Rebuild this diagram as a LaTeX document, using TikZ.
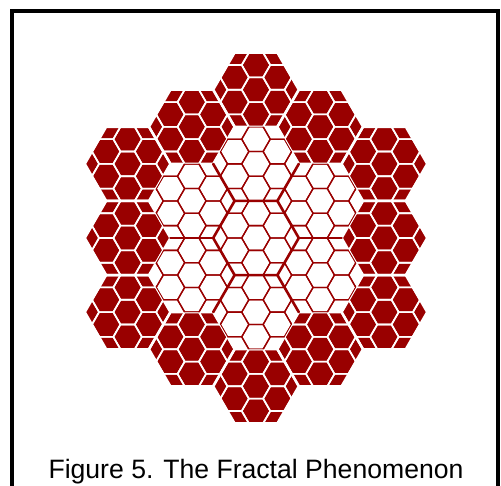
\documentclass[tikz,border=0pt]{standalone}
\usepackage{fontspec}
\setmainfont{Liberation Sans}
\usepackage{xcolor}
\definecolor{fracred}{RGB}{153,0,0}

% flat-top hexagon at grid position (a,b) with radius r
\newcommand{\hexcell}[3]{({1.5*(#3)*(#1)+(#3)},{0.8660254*(#3)*(#2)}) -- ++(120:#3) -- ++(180:#3) -- ++(240:#3) -- ++(300:#3) -- ++(0:#3) -- cycle}
\newcommand{\bigR}{42.8}
\newcommand{\smallR}{14.2667}
\newcommand{\outerring}{0/4,0/-4,1/3,-1/3,1/-3,-1/-3,2/2,-2/2,2/-2,-2/-2,2/0,-2/0}
\newcommand{\innerring}{0/0,0/2,0/-2,1/1,-1/1,1/-1,-1/-1}

\begin{document}
\begin{tikzpicture}[x=1pt,y=1pt,
  darkhex/.style={fill=fracred},
  gapline/.style={white,line width=2.4pt,line join=round},
  cellwhite/.style={white,line width=1.6pt},
  cellred/.style={fracred,line width=1.3pt},
  borderline/.style={fracred,line width=2.6pt,line cap=round}]
\useasboundingbox (-256,-247) rectangle (245,238);
\clip (-256,-247) rectangle (245,238);
\draw[line width=4pt] (-244,227) rectangle (242,-270);
% outer ring of dark hexagons
\foreach \a/\b in \outerring
  \fill[darkhex] \hexcell{\a}{\b}{\bigR};
\begin{scope}
\clip \foreach \a/\b in \outerring {\hexcell{\a}{\b}{\bigR}};
\foreach \i in {-9,...,9}
  \foreach \k in {-13,...,13}
    \draw[cellwhite] \hexcell{\i}{2*\k+\i}{\smallR};
\end{scope}
\foreach \a/\b in \outerring
  \draw[gapline] \hexcell{\a}{\b}{\bigR};
% white flower in the middle
\begin{scope}
\clip \foreach \a/\b in \innerring {\hexcell{\a}{\b}{\bigR}};
\foreach \i in {-9,...,9}
  \foreach \k in {-13,...,13}
    \draw[cellred] \hexcell{\i}{2*\k+\i}{\smallR};
\end{scope}
\draw[borderline] \hexcell{0}{0}{\bigR};
\foreach \t in {0,60,...,300}
  \draw[borderline] (\t:\bigR) -- (\t:{2*\bigR});
\node (caption) [anchor=base,font=\fontsize{26.6}{30}\selectfont] at (0,-240.5) {Figure 5. The Fractal Phenomenon};
\end{tikzpicture}
\end{document}
